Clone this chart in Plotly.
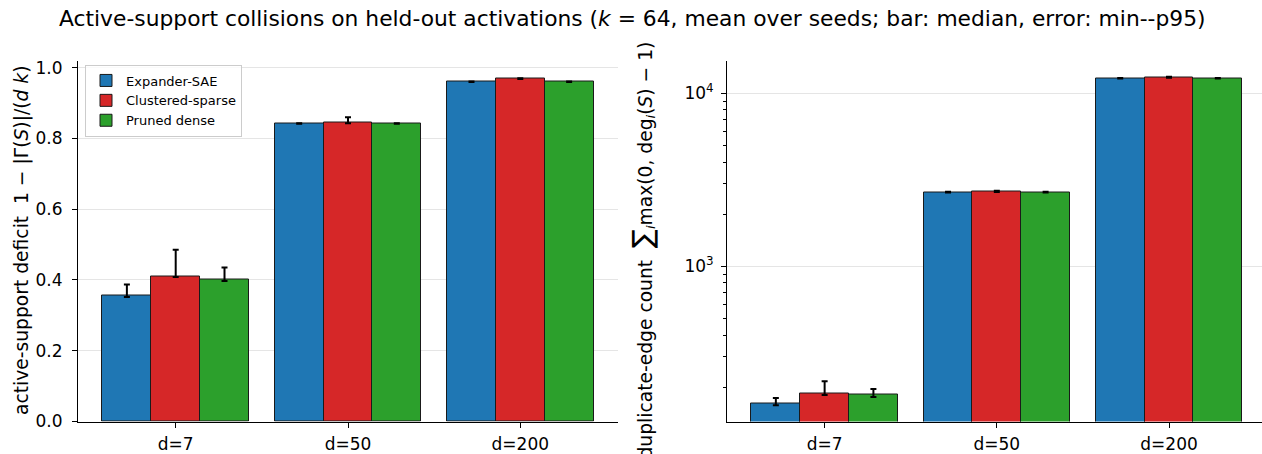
import plotly.graph_objects as go

categories = ["d=7", "d=50", "d=200"]
series = ["Expander-SAE", "Clustered-sparse", "Pruned dense"]
colors = ["#1f77b4", "#d62728", "#2ca02c"]

# Left panel: active-support deficit (median, min, p95)
deficit_median = {
    "Expander-SAE": [0.356, 0.842, 0.960],
    "Clustered-sparse": [0.411, 0.845, 0.969],
    "Pruned dense": [0.401, 0.842, 0.960],
}
deficit_min = {
    "Expander-SAE": [0.352, 0.841, 0.959],
    "Clustered-sparse": [0.408, 0.843, 0.968],
    "Pruned dense": [0.397, 0.841, 0.959],
}
deficit_p95 = {
    "Expander-SAE": [0.387, 0.843, 0.961],
    "Clustered-sparse": [0.485, 0.860, 0.970],
    "Pruned dense": [0.435, 0.843, 0.961],
}

# Right panel: duplicate-edge count (median, min, p95)
dup_median = {
    "Expander-SAE": [160, 2680, 12200],
    "Clustered-sparse": [183, 2700, 12370],
    "Pruned dense": [180, 2680, 12200],
}
dup_min = {
    "Expander-SAE": [157, 2670, 12150],
    "Clustered-sparse": [180, 2680, 12300],
    "Pruned dense": [175, 2670, 12150],
}
dup_p95 = {
    "Expander-SAE": [173, 2690, 12250],
    "Clustered-sparse": [216, 2730, 12450],
    "Pruned dense": [195, 2690, 12250],
}

S = 454 / 467  # observed vertical scale of the photograph
W, H = 1262, 467


def px(x):
    return x / W


def py(y):
    return 1 - ((y - 2.5) / S) / H


offsets = [-0.2833, 0.0, 0.2833]
bw = 0.2833

fig = go.Figure()
for k, s in enumerate(series):
    for panel, (med, mn, p95) in enumerate([(deficit_median, deficit_min, deficit_p95),
                                            (dup_median, dup_min, dup_p95)]):
        xs = [i + offsets[k] for i in range(len(categories))]
        fig.add_trace(go.Bar(
            x=xs, y=med[s], width=bw, name=s,
            marker=dict(color=colors[k], line=dict(color="#1a1a1a", width=1)),
            error_y=dict(type="data", symmetric=False,
                         array=[p - m for p, m in zip(p95[s], med[s])],
                         arrayminus=[m - q for m, q in zip(med[s], mn[s])],
                         color="black", thickness=2, width=3),
            showlegend=(panel == 0),
            xaxis="x" if panel == 0 else "x2",
            yaxis="y" if panel == 0 else "y2",
        ))

ytop = py(60)
ybot = py(421)
font = dict(family="DejaVu Sans", size=17, color="black")

common_x = dict(tickmode="array", tickvals=[0, 1, 2], ticktext=categories,
                showline=True, linecolor="black", linewidth=1, ticks="outside",
                ticklen=5, tickcolor="black", showgrid=False, zeroline=False,
                tickfont=font, ticklabelstandoff=2)

minor_vals = [v * 10 ** e for e in (2, 3) for v in range(2, 10)]

fig.update_layout(
    width=W, height=H,
    margin=dict(l=0, r=0, t=0, b=0),
    plot_bgcolor="white", paper_bgcolor="white",
    barmode="overlay",
    bargap=0,
    font=font,
    xaxis=dict(domain=[px(78), px(618)], range=[-0.567, 2.567], **common_x),
    xaxis2=dict(domain=[px(727), 1.0], range=[-0.567, 2.54], anchor="y2", **common_x),
    yaxis=dict(domain=[ybot, ytop], range=[0, 1.02], tickvals=[0, 0.2, 0.4, 0.6, 0.8, 1.0],
               tickformat=".1f", showline=True, linecolor="black", linewidth=1,
               ticks="outside", ticklen=5, tickcolor="black", showgrid=True,
               gridcolor="#e5e5e5", gridwidth=1, zeroline=False, tickfont=font,
               ticklabelstandoff=6),
    yaxis2=dict(domain=[ybot, ytop], type="log", range=[2.102, 4.189], anchor="x2",
                tickvals=[1000, 10000], ticktext=["10<sup>3</sup>", "10<sup>4</sup>"],
                showline=True, linecolor="black", linewidth=1, ticks="outside",
                ticklen=5, tickcolor="black", showgrid=True, gridcolor="#e5e5e5",
                zeroline=False, tickfont=font, ticklabelstandoff=4,
                minor=dict(tickmode="array", tickvals=minor_vals, ticks="outside",
                           ticklen=3, tickcolor="black", showgrid=False)),
    legend=dict(x=px(85), y=py(64), xanchor="left", yanchor="top",
                bgcolor="rgba(255,255,255,0.8)", bordercolor="#cccccc", borderwidth=1,
                font=dict(family="DejaVu Sans", size=13, color="black"),
                tracegroupgap=0, itemwidth=30),
    showlegend=True,
    annotations=[
        dict(text="Active-support collisions on held-out activations (<i>k</i> = 64, mean over seeds; bar: median, error: min--p95)",
             x=px(632), y=py(18), xref="paper", yref="paper", showarrow=False,
             xanchor="center", yanchor="middle",
             font=dict(family="DejaVu Sans", size=21.8, color="black")),
        dict(text="active-support deficit  1 − |Γ(<i>S</i>)|/(<i>d k</i>)",
             x=px(22), y=(ybot + ytop) / 2, xref="paper", yref="paper", showarrow=False,
             textangle=-90, xanchor="center", yanchor="middle",
             font=dict(family="DejaVu Sans", size=18.7, color="black")),
        dict(text="duplicate-edge count  <span style='font-size:28px'>∑</span><sub><i>i</i></sub>max(0, deg<sub><i>i</i></sub>(<i>S</i>) − 1)",
             x=px(642), y=py(250), xref="paper", yref="paper", showarrow=False,
             textangle=-90, xanchor="center", yanchor="middle",
             font=dict(family="DejaVu Sans", size=18.7, color="black")),
    ],
)

fig.write_html(
    "out.html",
    config={"displayModeBar": False},
    post_script="document.body.style.margin='0';document.body.style.overflow='hidden';",
)
